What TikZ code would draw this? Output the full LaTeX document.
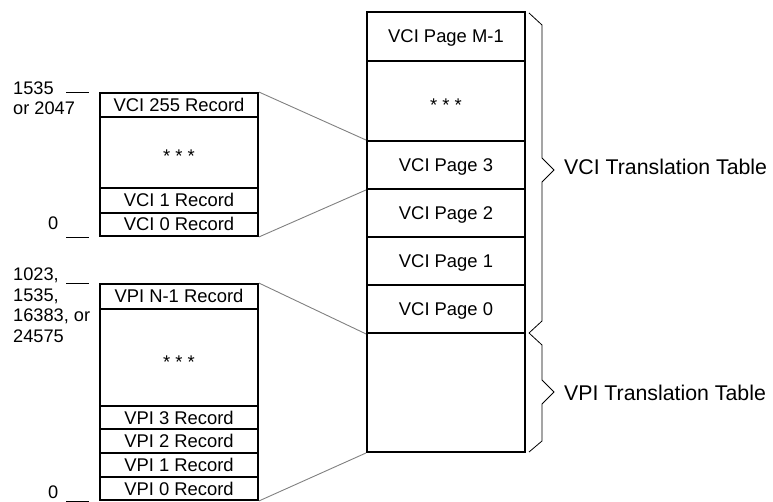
\documentclass[tikz,border=0pt]{standalone}
\usepackage{fontspec}
\setmainfont{Liberation Sans}
\begin{document}
\begin{tikzpicture}[x=1bp,y=-1bp,
  cell/.style={draw, line width=1.9bp, minimum width=158bp, inner sep=0pt,
    text height=13bp, text depth=0pt, font=\fontsize{18.4bp}{20.5bp}\selectfont},
  lab/.style={inner sep=0pt, align=left, font=\fontsize{18.2bp}{20.6bp}\selectfont},
  big/.style={inner sep=0pt, font=\fontsize{21.3bp}{24bp}\selectfont},
  conn/.style={draw=black!50, line width=0.9bp},
  tick/.style={draw, line width=0.8bp},
  bracepath/.style={draw, line width=0.8bp, line join=miter}]
\useasboundingbox (0,0) rectangle (773,502);
% right column
\node[cell, minimum height=49bp] (m1) at (446,36.5) {VCI Page M-1};
\node[cell, minimum height=80bp] (rdots) at (446,101) {\raisebox{-4bp}{* * *}};
\node[cell, minimum height=48bp] (pg3) at (446,165) {VCI Page 3};
\node[cell, minimum height=48bp] (pg2) at (446,213) {VCI Page 2};
\node[cell, minimum height=48bp] (pg1) at (446,261) {VCI Page 1};
\node[cell, minimum height=48bp] (pg0) at (446,309) {VCI Page 0};
\node[cell, minimum height=119bp] (vpi) at (446,392.5) {};
% VCI records
\node[cell, minimum height=24bp] (v255) at (179,105) {VCI 255 Record};
\node[cell, minimum height=71bp] (vdots) at (179,152.5) {\raisebox{-4bp}{* * *}};
\node[cell, minimum height=25bp] (v1) at (179,200.5) {VCI 1 Record};
\node[cell, minimum height=23bp] (v0) at (179,224.5) {VCI 0 Record};
% VPI records
\node[cell, minimum height=25bp] (pn) at (179,296.5) {VPI N-1 Record};
\node[cell, minimum height=97bp] (pdots) at (179,357.5) {\raisebox{-4bp}{* * *}};
\node[cell, minimum height=23bp] (p3) at (179,417.5) {VPI 3 Record};
\node[cell, minimum height=24bp] (p2) at (179,441) {VPI 2 Record};
\node[cell, minimum height=24bp] (p1) at (179,465) {VPI 1 Record};
\node[cell, minimum height=23bp] (p0) at (179,488.5) {VPI 0 Record};
% connectors
\draw[conn] (v255.north east) -- (pg3.north west);
\draw[conn] (v0.south east) -- (pg3.south west);
\draw[conn] (pn.north east) -- (pg0.south west);
\draw[conn] (p0.south east) -- (vpi.south west);
% address labels
\node[lab, anchor=base west] (a1535) at (13,115) {1535\\or 2047};
\node[lab, anchor=base west] (a0v) at (48,230) {0};
\node[lab, anchor=base west] (a1023) at (13,342.5) {1023,\\1535,\\16383, or\\24575};
\node[lab, anchor=base west] (a0p) at (48,498) {0};
\draw[tick] ([xshift=-33bp]v255.north west) -- ([xshift=-10bp]v255.north west);
\draw[tick] ([xshift=-33bp]v0.south west) -- ([xshift=-10bp]v0.south west);
\draw[tick] ([xshift=-33bp]pn.north west) -- ([xshift=-10bp]pn.north west);
\draw[tick] ([xshift=-33bp]p0.south west) -- ([xshift=-10bp]p0.south west);
% braces
\draw[bracepath] (529,13) -- (542,25) -- (542,158) -- (554,170) -- (542,182) -- (542,321) -- (529,333);
\draw[bracepath] (529,333) -- (542,345) -- (542,380) -- (554,392) -- (542,404) -- (542,441) -- (529,452);
\node[big, anchor=west] (vcit) at (564,166.5) {VCI Translation Table};
\node[big, anchor=west] (vpit) at (564,392.5) {VPI Translation Table};
\end{tikzpicture}
\end{document}
